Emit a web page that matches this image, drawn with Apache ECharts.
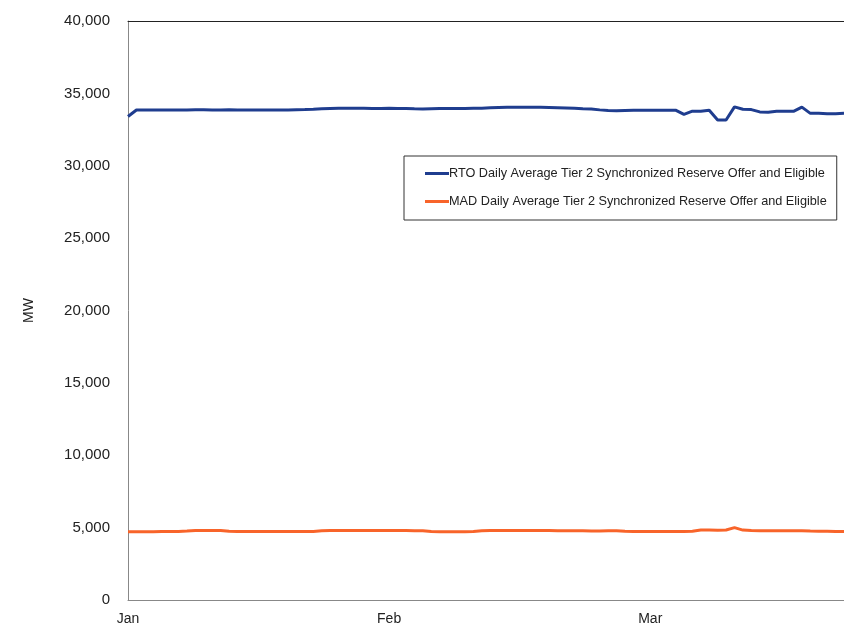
<!DOCTYPE html>
<html>
<head>
<meta charset="utf-8">
<script src="https://cdn.jsdelivr.net/npm/echarts@6/dist/echarts.min.js"></script>
<style>
  html, body { margin: 0; padding: 0; background: #fff; }
  #chart { width: 844px; height: 629px; }
</style>
</head>
<body>
<div id="chart"></div>
<script>
// month tick labels, one every 31 daily points
const monthLabels = ['Jan', 'Feb', 'Mar']
const pointsPerMonth = 31

// daily averages, MW
const rtoValues = [
  33400, 33850, 33850, 33860, 33850, 33860, 33850, 33860, 33870, 33870,
  33860, 33860, 33870, 33860, 33850, 33850, 33850, 33860, 33860, 33860,
  33870, 33880, 33900, 33930, 33950, 33970, 33980, 33980, 33970, 33960,
  33960, 33970, 33960, 33950, 33930, 33920, 33940, 33950, 33960, 33960,
  33960, 33970, 33980, 34000, 34020, 34040, 34050, 34050, 34050, 34040,
  34030, 34010, 33990, 33970, 33940, 33920, 33860, 33820, 33800, 33820,
  33830, 33830, 33840, 33830, 33840, 33840, 33550, 33770, 33770, 33840,
  33160, 33160, 34070, 33900, 33880, 33720, 33700, 33770, 33760, 33760,
  34050, 33620, 33620, 33590, 33600, 33620
]
const madValues = [
  4720, 4720, 4720, 4720, 4730, 4730, 4740, 4760, 4800, 4800,
  4800, 4800, 4750, 4730, 4730, 4730, 4730, 4730, 4730, 4730,
  4730, 4730, 4740, 4790, 4800, 4800, 4800, 4800, 4800, 4800,
  4800, 4800, 4800, 4800, 4790, 4780, 4730, 4720, 4720, 4720,
  4720, 4740, 4790, 4800, 4800, 4800, 4800, 4800, 4800, 4800,
  4800, 4790, 4780, 4780, 4780, 4770, 4760, 4790, 4780, 4750,
  4740, 4740, 4740, 4740, 4740, 4740, 4740, 4750, 4830, 4830,
  4820, 4840, 5000, 4830, 4800, 4790, 4790, 4790, 4790, 4790,
  4780, 4760, 4750, 4750, 4740, 4740
]
const rtoName = 'RTO Daily Average Tier 2 Synchronized Reserve Offer and Eligible'
const madName = 'MAD Daily Average Tier 2 Synchronized Reserve Offer and Eligible'

const days = rtoValues.map((v, i) => i)
const font = 'Liberation Sans, Arial, sans-serif'

const chart = echarts.init(document.getElementById('chart'))
chart.setOption({
  animation: false,
  grid: { left: 128, right: 0, top: 21, bottom: 29 },
  legend: {
    orient: 'vertical',
    left: 404,
    top: 156,
    padding: [10, 10, 11, 21],
    itemGap: 13,
    itemWidth: 24,
    itemHeight: 3,
    icon: 'rect',
    borderColor: '#333',
    borderWidth: 1,
    textStyle: { fontFamily: font, fontSize: 12.7, lineHeight: 15, color: '#222', padding: [0, 0, 0, -5] },
    data: [rtoName, madName]
  },
  xAxis: [
    {
      type: 'category',
      data: days,
      boundaryGap: false,
      axisLine: { lineStyle: { color: '#888', width: 1 } },
      axisTick: { show: false },
      axisLabel: {
        interval: (i) => i % pointsPerMonth === 0,
        formatter: (v) => monthLabels[Math.floor(v / pointsPerMonth)],
        margin: 12,
        fontFamily: font,
        fontSize: 14,
        color: '#222'
      },
      splitLine: { show: false }
    },
    {
      type: 'category',
      data: days,
      position: 'top',
      boundaryGap: false,
      axisLine: { lineStyle: { color: '#222', width: 1 } },
      axisTick: { show: false },
      axisLabel: { show: false }
    }
  ],
  yAxis: {
    type: 'value',
    min: 0,
    max: 40000,
    interval: 5000,
    name: 'MW',
    nameLocation: 'middle',
    nameGap: 92,
    nameRotate: 90,
    nameTextStyle: { fontFamily: font, fontSize: 14, color: '#222' },
    axisLine: { show: true, lineStyle: { color: '#888', width: 1 } },
    axisTick: { show: false },
    splitLine: { show: false },
    axisLabel: {
      margin: 18,
      fontFamily: font,
      fontSize: 15,
      color: '#222',
      formatter: (v) => v.toLocaleString('en-US')
    }
  },
  series: [
    {
      name: rtoName,
      type: 'line',
      data: rtoValues,
      symbol: 'none',
      color: '#1f3d8f',
      lineStyle: { width: 3, color: '#1f3d8f' }
    },
    {
      name: madName,
      type: 'line',
      data: madValues,
      symbol: 'none',
      color: '#f8642a',
      lineStyle: { width: 3, color: '#f8642a' }
    }
  ]
})
</script>
</body>
</html>
